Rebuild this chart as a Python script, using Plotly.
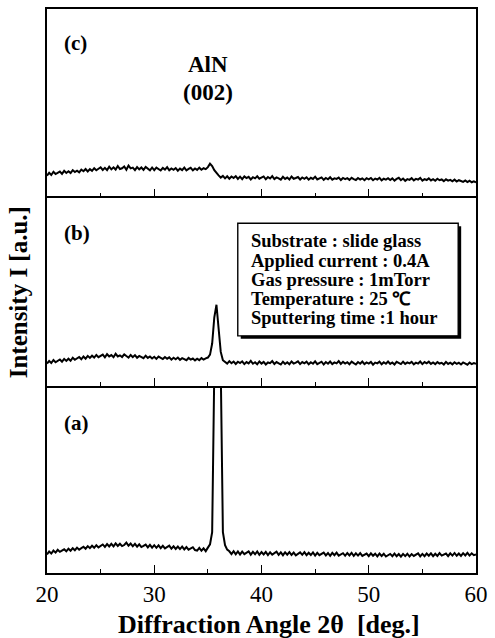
import numpy as np
import plotly.graph_objects as go
from plotly.subplots import make_subplots

# 2-theta grid (deg), 0.2 deg steps from 20 to 60
ANGLE = np.round(np.arange(20.0, 60.0001, 0.2), 1)

# (c) intensity (a.u., panel scale 0-100)
INT_C = [
    11.0, 12.6, 11.4, 13.1, 11.9, 12.4, 13.2, 12.0, 13.6, 12.5,
    13.4, 12.4, 14.0, 13.0, 13.7, 12.8, 14.3, 13.4, 14.6, 13.3,
    14.5, 13.6, 15.0, 13.9, 14.7, 15.5, 14.1, 15.2, 14.0, 15.8,
    14.4, 15.5, 14.3, 16.2, 14.6, 15.0, 15.9, 14.2, 16.4, 14.9,
    15.3, 14.0, 15.6, 14.4, 15.4, 14.1, 15.7, 14.6, 13.9, 15.4,
    14.0, 15.3, 14.5, 13.8, 15.2, 14.3, 15.6, 13.9, 14.9, 14.2,
    15.1, 13.7, 14.8, 14.0, 15.3, 13.8, 14.6, 15.2, 13.9, 14.9,
    14.1, 15.3, 14.2, 15.0, 14.5, 15.6, 17.4, 16.2, 14.0, 12.4,
    11.2, 10.0, 10.9, 9.6, 10.7, 9.4, 10.6, 9.8, 10.8, 9.3,
    10.5, 9.2, 10.6, 9.7, 10.4, 9.0, 10.2, 9.6, 10.7, 9.4,
    9.9, 10.6, 9.1, 10.3, 9.5, 10.8, 9.2, 10.1, 9.6, 8.9,
    10.4, 9.3, 10.0, 9.0, 10.6, 9.4, 9.8, 10.3, 9.0, 10.1,
    9.4, 10.2, 8.9, 9.9, 9.3, 10.5, 9.0, 9.7, 10.1, 8.8,
    9.8, 9.1, 10.2, 8.9, 9.6, 9.3, 10.0, 8.7, 9.8, 9.2,
    9.7, 8.8, 9.9, 9.2, 8.7, 9.8, 9.0, 9.6, 8.6, 9.7,
    9.1, 9.8, 8.6, 9.5, 9.0, 9.9, 8.5, 9.4, 8.9, 9.7,
    8.7, 9.6, 8.4, 9.3, 9.9, 8.6, 9.5, 8.3, 9.2, 8.8,
    9.7, 8.5, 9.3, 8.9, 9.8, 8.4, 9.2, 8.7, 9.6, 8.5,
    9.2, 8.3, 9.4, 8.6, 9.0, 8.1, 9.1, 8.4, 8.8, 8.0,
    8.9, 7.9, 8.6, 8.2, 7.7, 8.5, 7.6, 8.3, 7.5, 8.0,
    7.4,
]

# (b) intensity
INT_B = [
    11.8, 13.2, 12.1, 13.7, 12.5, 13.1, 14.0, 12.8, 14.3, 13.2,
    14.4, 13.3, 14.9, 13.8, 14.5, 15.3, 14.1, 15.6, 14.4, 15.9,
    14.8, 16.0, 15.0, 16.4, 15.2, 15.7, 16.6, 15.1, 16.8, 15.6,
    16.3, 15.2, 17.0, 15.6, 16.2, 15.3, 16.7, 15.8, 15.0, 16.4,
    15.2, 16.3, 14.9, 15.9, 15.3, 14.7, 16.0, 14.8, 15.6, 14.5,
    15.4, 14.3, 15.5, 14.7, 14.2, 15.3, 14.4, 15.1, 13.9, 14.9,
    14.1, 15.0, 13.8, 14.7, 14.2, 13.6, 14.8, 13.9, 14.5, 13.5,
    14.4, 13.6, 14.7, 13.9, 14.6, 15.0, 16.6, 22.5, 36.5, 43.2,
    30.5, 18.0, 13.6, 12.9, 11.8, 13.1, 12.0, 12.9, 11.6, 12.8,
    12.1, 13.0, 11.5, 12.6, 11.9, 13.2, 11.7, 12.5, 11.4, 12.9,
    11.8, 12.7, 11.3, 12.4, 12.0, 13.1, 11.6, 12.6, 11.9, 11.3,
    12.8, 11.6, 12.5, 11.4, 12.9, 11.8, 12.3, 13.0, 11.5, 12.6,
    11.9, 12.8, 11.4, 12.5, 11.7, 13.0, 11.5, 12.3, 12.8, 11.3,
    12.6, 11.7, 12.9, 11.5, 12.4, 11.9, 13.1, 11.6, 12.7, 11.8,
    12.5, 11.4, 12.8, 12.0, 11.3, 12.6, 11.7, 12.9, 11.5, 12.4,
    11.8, 12.7, 11.2, 12.3, 11.9, 12.8, 11.4, 12.5, 11.7, 12.9,
    11.6, 12.4, 11.3, 12.7, 12.0, 11.5, 12.8, 11.6, 12.4, 11.9,
    12.7, 11.4, 12.3, 11.8, 12.9, 11.5, 12.6, 11.9, 12.8, 11.6,
    12.4, 11.5, 12.6, 11.8, 12.2, 11.3, 12.7, 11.6, 12.3, 11.4,
    12.5, 11.6, 12.2, 11.3, 12.4, 11.7, 11.2, 12.3, 11.5, 12.1,
    11.6,
]

# (a) intensity (peak runs off the top of the panel)
INT_A = [
    10.0, 11.6, 10.5, 12.1, 11.0, 12.5, 11.4, 11.9, 12.8, 11.7,
    13.1, 12.0, 13.4, 12.3, 13.7, 12.6, 13.2, 14.2, 13.1, 14.5,
    13.4, 14.7, 13.6, 15.0, 13.8, 14.4, 15.4, 14.1, 15.6, 14.3,
    15.7, 14.4, 16.0, 14.6, 15.8, 14.5, 15.1, 16.4, 14.7, 15.9,
    14.4, 15.7, 14.2, 15.5, 14.0, 14.6, 15.3, 13.8, 15.2, 13.7,
    15.0, 13.6, 14.9, 13.4, 14.7, 13.3, 13.9, 14.8, 13.1, 14.4,
    13.0, 14.3, 12.9, 14.2, 12.7, 14.0, 12.6, 13.2, 13.9, 12.4,
    12.1, 13.5, 12.0, 13.3, 11.8, 13.7, 15.5, 22.0, 110.0, 650.0,
    650.0, 110.0, 22.0, 15.0, 12.6, 11.7, 10.2, 11.8, 10.1, 11.6,
    10.0, 11.5, 10.2, 10.8, 11.7, 9.9, 11.4, 10.1, 11.6, 9.8,
    11.3, 10.0, 11.4, 9.7, 11.2, 9.9, 10.5, 11.5, 9.8, 11.1,
    9.6, 11.2, 9.9, 11.3, 9.7, 11.0, 9.5, 10.2, 11.1, 9.8,
    11.2, 9.6, 10.9, 9.7, 11.1, 9.4, 10.9, 9.6, 10.3, 11.0,
    9.5, 10.8, 9.3, 10.9, 9.6, 11.0, 9.4, 10.1, 10.7, 9.3,
    10.8, 9.5, 10.9, 9.2, 10.6, 9.4, 10.7, 9.2, 9.9, 10.5,
    9.1, 10.6, 9.3, 10.4, 9.0, 10.5, 9.2, 10.4, 8.9, 9.6,
    10.3, 9.1, 10.5, 9.0, 10.2, 8.8, 10.3, 9.1, 10.4, 8.9,
    10.2, 9.2, 9.7, 10.6, 9.0, 10.3, 9.1, 10.5, 9.3, 10.6,
    9.1, 10.4, 9.2, 10.7, 9.4, 10.0, 10.5, 9.1, 10.6, 9.4,
    10.8, 9.3, 10.5, 9.2, 10.7, 9.5, 10.9, 9.4, 10.6, 9.6,
    10.0,
]

PANEL_LABELS = ["(c)", "(b)", "(a)"]
X_TICKS = [20, 30, 40, 50, 60]
CONDITIONS = [
    "Substrate : slide glass",
    "Applied current : 0.4A",
    "Gas pressure : 1mTorr",
    "Temperature : 25 \u2103",
    "Sputtering time :1 hour",
]

SERIF = "Liberation Serif, Times New Roman, serif"

# figure geometry (px)
W, H = 495, 638
L, R, T, B = 47, 14, 7, 65
PW, PH = W - L - R, H - T - B


def px_x(px):
    return (px - L) / PW


def px_y(py):
    return (H - B - py) / PH


fig = make_subplots(rows=3, cols=1, shared_xaxes=False)

series = [INT_C, INT_B, INT_A]
for i, ys in enumerate(series):
    fig.add_trace(
        go.Scatter(x=ANGLE, y=ys, mode="lines",
                   line=dict(color="black", width=2.0),
                   showlegend=False, hoverinfo="skip"),
        row=i + 1, col=1,
    )

domains = [
    [px_y(195), px_y(7)],
    [px_y(385), px_y(197)],
    [px_y(573), px_y(387)],
]

for i in range(3):
    xa = "xaxis" if i == 0 else f"xaxis{i + 1}"
    ya = "yaxis" if i == 0 else f"yaxis{i + 1}"
    fig.layout[ya].update(
        domain=domains[i], range=[0, 100], showticklabels=False,
        ticks="", showgrid=False, zeroline=False,
        showline=True, linecolor="black", linewidth=1.6, mirror=True,
        fixedrange=True,
    )
    fig.layout[xa].update(
        range=[20, 60], tickvals=X_TICKS, ticks="inside", ticklen=8,
        tickwidth=1.4, tickcolor="black",
        minor=dict(dtick=5, tick0=20, ticks="inside", ticklen=4,
                   tickwidth=1.2, tickcolor="black", showgrid=False),
        showgrid=False, zeroline=False,
        showline=True, linecolor="black", linewidth=1.6, mirror=True,
        showticklabels=(i == 2),
        tickfont=dict(family=SERIF, size=23, color="black"),
        fixedrange=True,
    )

annotations = []
# panel labels
label_y = [41, 232, 422]
for lab, py in zip(PANEL_LABELS, label_y):
    annotations.append(dict(
        text=f"<b>{lab}</b>", x=px_x(62), y=px_y(py), xref="paper", yref="paper",
        xanchor="left", yanchor="middle", showarrow=False,
        font=dict(family=SERIF, size=21, color="black"),
    ))

# AlN (002) label
annotations.append(dict(
    text="<b>AlN</b>", x=px_x(210), y=px_y(63), xref="paper", yref="paper",
    xanchor="center", yanchor="middle", showarrow=False,
    font=dict(family=SERIF, size=23, color="black"),
))
annotations.append(dict(
    text="<b>(002)</b>", x=px_x(210), y=px_y(91), xref="paper", yref="paper",
    xanchor="center", yanchor="middle", showarrow=False,
    font=dict(family=SERIF, size=23, color="black"),
))

# condition box text, one annotation per line
line_y = [240, 260, 279, 298, 317]
for txt, py in zip(CONDITIONS, line_y):
    annotations.append(dict(
        text=f"<b>{txt}</b>",
        x=px_x(251), y=px_y(py), xref="paper", yref="paper",
        xanchor="left", yanchor="middle", align="left", showarrow=False,
        font=dict(family=SERIF, size=18.5, color="black"),
    ))

# axis titles
annotations.append(dict(
    text="<b>Diffraction Angle 2\u03b8  [deg.]</b>",
    x=px_x(272), y=px_y(625), xref="paper", yref="paper",
    xanchor="center", yanchor="middle", showarrow=False,
    font=dict(family=SERIF, size=26, color="black"),
))
annotations.append(dict(
    text="<b>Intensity I [a.u.]</b>", textangle=-90,
    x=px_x(19), y=px_y(291), xref="paper", yref="paper",
    xanchor="center", yanchor="middle", showarrow=False,
    font=dict(family=SERIF, size=25, color="black"),
))

shapes = [
    # shadow of the condition box
    dict(type="rect", xref="paper", yref="paper",
         x0=px_x(243), x1=px_x(466), y0=px_y(338), y1=px_y(225),
         fillcolor="black", line=dict(color="black", width=0), layer="above"),
    # condition box
    dict(type="rect", xref="paper", yref="paper",
         x0=px_x(240), x1=px_x(463), y0=px_y(335), y1=px_y(222),
         fillcolor="white", line=dict(color="black", width=1.4), layer="above"),
]

fig.update_layout(
    width=W, height=H,
    margin=dict(l=L, r=R, t=T, b=B),
    paper_bgcolor="white", plot_bgcolor="white",
    annotations=annotations, shapes=shapes,
    showlegend=False,
)

fig.write_html("out.html",
               config={"displayModeBar": False},
               post_script="document.body.style.margin='0';"
                           "document.body.style.overflow='hidden';")
